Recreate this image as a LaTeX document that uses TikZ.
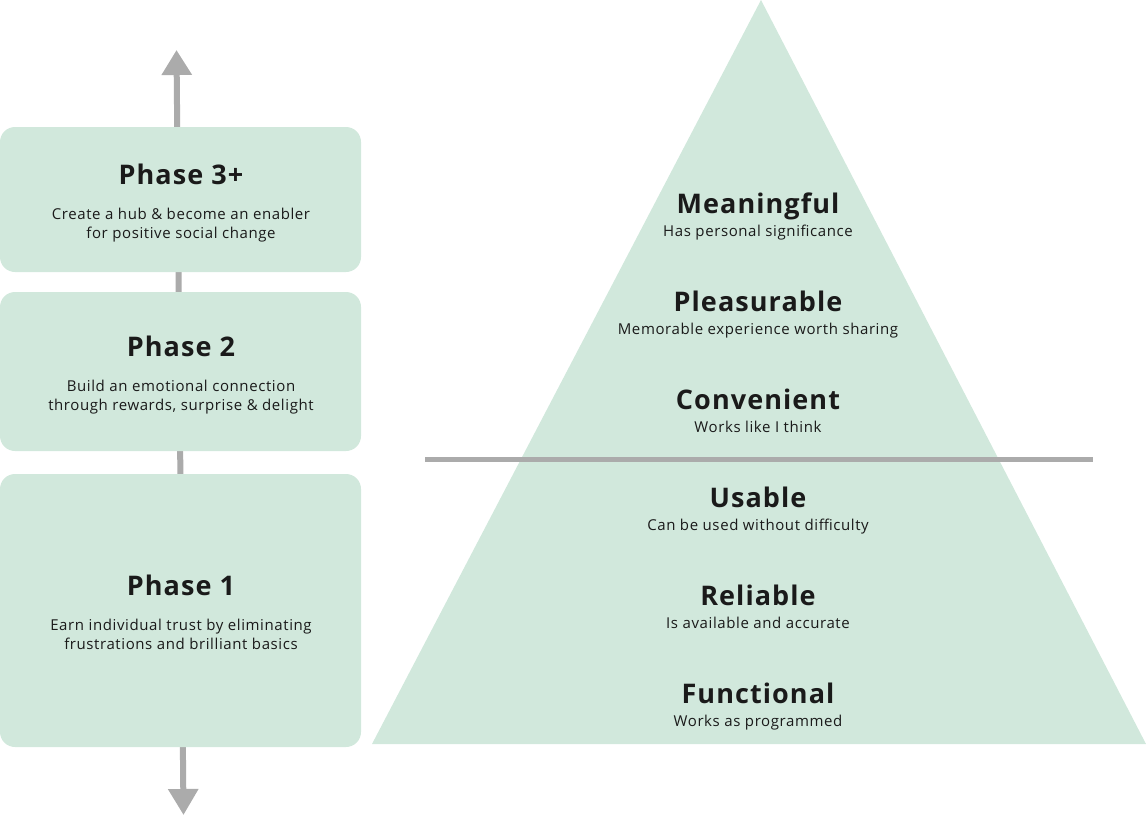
\documentclass[tikz,border=0pt]{standalone}
\usepackage{fontspec}
\setmainfont[LetterSpace=4]{Open Sans}
\usetikzlibrary{positioning,arrows.meta}
\definecolor{mint}{HTML}{D1E8DC}
\definecolor{rail}{HTML}{ABABAB}
\definecolor{ink}{HTML}{1A1A1A}

\begin{document}
\begin{tikzpicture}[x=1pt,y=-1pt,
	phasebox/.style={fill=mint,rounded corners=15pt,inner sep=0pt,minimum width=361pt},
	title/.style={font=\bfseries\fontsize{27}{30}\selectfont,text=ink,inner sep=0pt,anchor=base},
	sub/.style={font=\fontsize{15}{19}\selectfont,text=ink,align=center,inner sep=0pt,anchor=base}]
	%% page size
	\useasboundingbox (0,0) rectangle (1146,816);

	\def\px{180.5} % centre of the phase column
	\def\tx{758} % centre of the pyramid text

	% the pyramid
	\fill[mint] (761,0) coordinate (apex) -- (1146,744) coordinate (bright) -- (372,744) coordinate (bleft) -- cycle;
	\coordinate (cutl) at (425,459.5);
	\coordinate (cutr) at (1093,459.5);
	\draw[rail, line width=4.5pt] (cutl) -- (cutr);

	% the rail behind the phases
	\coordinate (railtop) at (176.5,50);
	\coordinate (railbot) at (183.5,815);
	\draw[rail, line width=6pt, {Triangle[width=29pt,length=25pt]}-{Triangle[width=29pt,length=26pt]}] (railtop) -- (railbot);

	% phases
	\node[phasebox, minimum height=145pt] (ph3) at (\px,199.5) {};
	\node[phasebox, minimum height=159pt] (ph2) at (\px,371.5) {};
	\node[phasebox, minimum height=273pt] (ph1) at (\px,610.5) {};

	% base of a two-line text sits on its last line
	\node[title] (ph3t) at (181,184) {Phase 3+};
	\node[sub] (ph3s) at (181,238) {Create a hub \& become an enabler\\for positive social change};
	\node[title] (ph2t) at (181,356) {Phase 2};
	\node[sub] (ph2s) at (181,410) {Build an emotional connection\\through rewards, surprise \& delight};
	\node[title] (ph1t) at (181,595) {Phase 1};
	\node[sub] (ph1s) at (181,649) {Earn individual trust by eliminating\\frustrations and brilliant basics};

	% pyramid levels
	\foreach \y/\name/\txt [count=\i] in {
		213.5/Meaningful/Has personal significance,
		311.5/Pleasurable/Memorable experience worth sharing,
		409.5/Convenient/Works like I think,
		507.5/Usable/Can be used without difficulty,
		605.5/Reliable/Is available and accurate,
		703.5/Functional/Works as programmed}{
		\node[title] (lvl\i) at (\tx,\y) {\name};
		\node[sub] (lvl\i s) at (\tx,\y+22.5) {\txt};
	}
\end{tikzpicture}
\end{document}
